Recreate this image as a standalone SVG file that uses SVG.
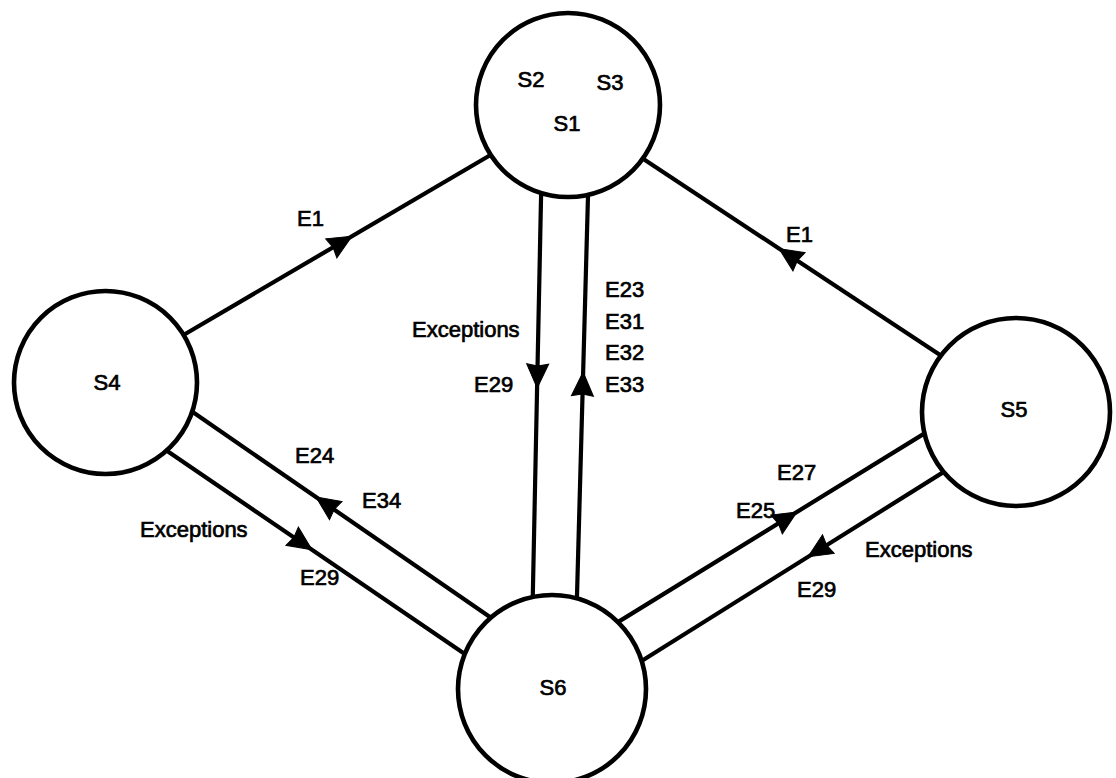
<svg xmlns="http://www.w3.org/2000/svg" xmlns:xlink="http://www.w3.org/1999/xlink" width="1116" height="778" viewBox="0 0 1116 778">
  <style>
    .edge { stroke: #000; stroke-width: 4.2; fill: none; stroke-linecap: butt; }
    .state { fill: #fff; stroke: #000; stroke-width: 4.6; }
    .lbl { font-family: "Liberation Sans", Arial, sans-serif; font-size: 22px; fill: #000; stroke: #000; stroke-width: 0.7; }
    .name { text-anchor: middle; }
    .head { fill: #000; stroke: #000; stroke-width: 1; stroke-linejoin: miter; }
  </style>
  <defs>
    <!-- solid arrowhead with its tip at the origin, pointing along +x -->
    <path id="ah" class="head" d="M0,0 L-24,-11 L-22,0 L-24,11 Z"/>
  </defs>

  <rect width="1116" height="778" fill="#fff"/>

  <g id="connectors">
    <!-- S4 -> S1 -->
    <line class="edge" x1="181.8" y1="336" x2="492.2" y2="154"/>
    <!-- S5 -> S1 -->
    <line class="edge" x1="640" y1="156.7" x2="942" y2="356.3"/>
    <!-- S1 <-> S6 pair -->
    <line class="edge" x1="541.3" y1="185" x2="532.5" y2="610"/>
    <line class="edge" x1="588.3" y1="185" x2="576.6" y2="610"/>
    <!-- S4 <-> S6 pair -->
    <line class="edge" x1="192" y1="411.6" x2="495" y2="620.4"/>
    <line class="edge" x1="165" y1="449.6" x2="467" y2="655.4"/>
    <!-- S6 <-> S5 pair -->
    <line class="edge" x1="613" y1="625.1" x2="927" y2="431.9"/>
    <line class="edge" x1="638" y1="663.2" x2="947" y2="469.9"/>

    <use xlink:href="#ah" href="#ah" transform="translate(352,236.2) rotate(-30.4)"/>
    <use xlink:href="#ah" href="#ah" transform="translate(779,248.6) rotate(213.5)"/>
    <use xlink:href="#ah" href="#ah" transform="translate(537.2,388) rotate(91.15)"/>
    <use xlink:href="#ah" href="#ah" transform="translate(583.1,372) rotate(-88.4)"/>
    <use xlink:href="#ah" href="#ah" transform="translate(316,497) rotate(214.6)"/>
    <use xlink:href="#ah" href="#ah" transform="translate(312,549.8) rotate(34.3)"/>
    <use xlink:href="#ah" href="#ah" transform="translate(797,511.9) rotate(-31.6)"/>
    <use xlink:href="#ah" href="#ah" transform="translate(808,556.8) rotate(148)"/>

    <text class="lbl" x="297" y="226">E1</text>
    <text class="lbl" x="786" y="242">E1</text>
    <text class="lbl" x="412" y="337">Exceptions</text>
    <text class="lbl" x="474" y="392">E29</text>
    <text class="lbl" x="605" y="297">E23</text>
    <text class="lbl" x="605" y="329">E31</text>
    <text class="lbl" x="605" y="360">E32</text>
    <text class="lbl" x="605" y="392">E33</text>
    <text class="lbl" x="295" y="463">E24</text>
    <text class="lbl" x="362" y="508">E34</text>
    <text class="lbl" x="140" y="537">Exceptions</text>
    <text class="lbl" x="300" y="585">E29</text>
    <text class="lbl" x="777" y="480">E27</text>
    <text class="lbl" x="736" y="518">E25</text>
    <text class="lbl" x="865" y="557">Exceptions</text>
    <text class="lbl" x="797" y="597">E29</text>
  </g>

  <g id="S1">
    <circle class="state" cx="568" cy="105" r="92"/>
    <text class="lbl name" x="531" y="87">S2</text>
    <text class="lbl name" x="610" y="90">S3</text>
    <text class="lbl name" x="567" y="131">S1</text>
  </g>
  <g id="S4">
    <circle class="state" cx="105.5" cy="382.5" r="91.5"/>
    <text class="lbl name" x="107" y="390">S4</text>
  </g>
  <g id="S5">
    <circle class="state" cx="1016" cy="412" r="94"/>
    <text class="lbl name" x="1014" y="417">S5</text>
  </g>
  <g id="S6">
    <circle class="state" cx="552" cy="689" r="94"/>
    <text class="lbl name" x="553" y="695">S6</text>
  </g>
</svg>
